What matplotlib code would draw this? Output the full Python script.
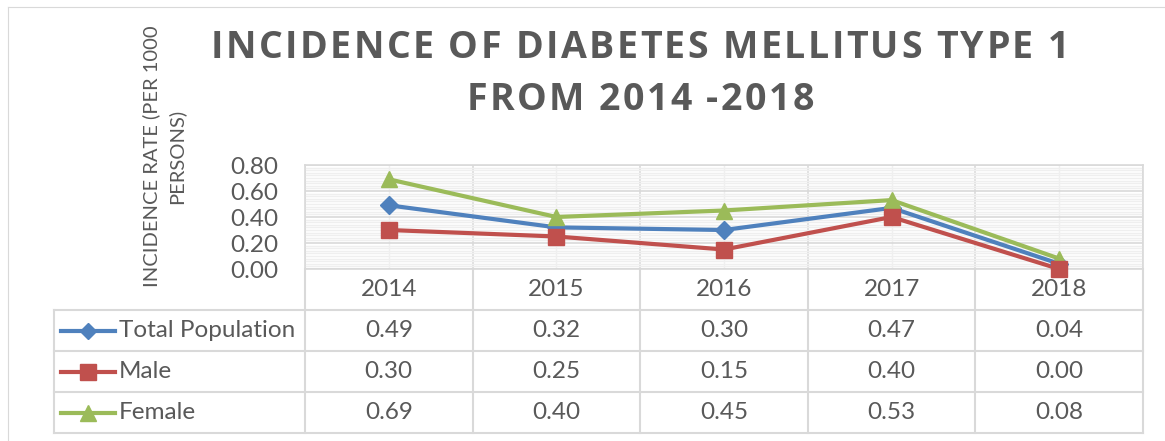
import matplotlib.pyplot as plt
import numpy as np

plt.rcParams['font.family'] = ['Lato', 'DejaVu Sans']

# data
years = ['2014', '2015', '2016', '2017', '2018']
series_names = ['Total Population', 'Male', 'Female']
total = [0.49, 0.32, 0.30, 0.47, 0.04]
male = [0.30, 0.25, 0.15, 0.40, 0.00]
female = [0.69, 0.40, 0.45, 0.53, 0.08]
title_lines = ['INCIDENCE OF DIABETES MELLITUS TYPE 1', 'FROM 2014 -2018']

colors = ['#4F81BD', '#C0504D', '#9BBB59']
markers = ['D', 's', '^']
msizes = [9, 12, 12]
txt = '#595959'
grid_major = '#d9d9d9'
grid_minor = '#efefef'
fs = 17.5

W, H = 1165, 441
fig = plt.figure(figsize=(W / 100, H / 100), dpi=100)
renderer = fig.canvas.get_renderer()


def spaced_text(s, xc, yc, spacing, **kw):
    # draw a line of text char by char to get Excel-like letter spacing (pixels)
    def width(t):
        obj = fig.text(0, 0, t, **kw)
        w = obj.get_window_extent(renderer).width
        obj.remove()
        return w
    n = len(s)
    total_w = width(s) + (n - 1) * spacing
    start = xc - total_w / 2
    for k, ch in enumerate(s):
        if ch == ' ':
            continue
        right = width(s[:k + 1]) + k * spacing
        fig.text((start + right) / W, 1 - yc / H, ch, ha='right', va='center', **kw)


# chart frame (Excel chart area border)
frame = fig.add_axes([8 / W, 0, 1 - 8 / W, 1 - 7 / H])
frame.set_xticks([])
frame.set_yticks([])
for side in ['bottom', 'right']:
    frame.spines[side].set_visible(False)
for side in ['top', 'left']:
    frame.spines[side].set_color(grid_major)
frame.patch.set_alpha(0)

# plot area
x0, x1, ytop, ybot = 305, 1143, 165, 269
ax = fig.add_axes([x0 / W, 1 - ybot / H, (x1 - x0) / W, (ybot - ytop) / H])
x = np.arange(len(years))
ax.set_xlim(-0.5, len(years) - 0.5)
ax.set_ylim(0, 0.8)
ax.set_yticks(np.arange(0, 0.81, 0.2))
ax.set_yticks(np.arange(0, 0.81, 0.02), minor=True)
ax.set_yticklabels([f'{v:.2f}' for v in np.arange(0, 0.81, 0.2)])
ax.set_xticks(np.arange(-0.5, len(years), 1.0))
ax.set_xticks(x, minor=True)
ax.set_xticklabels([])
ax.tick_params(which='both', length=0)
ax.tick_params(axis='y', labelsize=fs, labelcolor=txt, pad=19.5)
ax.grid(which='minor', color=grid_minor, lw=1)
ax.grid(which='major', color=grid_major, lw=1.2)
ax.set_axisbelow(True)
for s in ax.spines.values():
    s.set_color(grid_major)
    s.set_linewidth(1.2)

all_series = [total, male, female]
for vals, c in zip(all_series, colors):
    ax.plot(x, vals, color=c, lw=3, zorder=3, clip_on=False)
for i in [0, 2, 1]:
    ax.plot(x, all_series[i], ls='none', marker=markers[i], ms=msizes[i],
            color=colors[i], zorder=4, clip_on=False)

fig.text(164 / W, 1 - 156 / H, 'INCIDENCE RATE (PER 1000\nPERSONS)', rotation=90,
         ha='center', va='center', multialignment='center', fontsize=14.5,
         color=txt, linespacing=1.45)

title_kw = dict(fontsize=27, fontweight='bold', color=txt,
                family=['Open Sans', 'DejaVu Sans'])
spaced_text(title_lines[0], 640, 48.5, 2.4, **title_kw)
spaced_text(title_lines[1], 640, 100.5, 2.4, **title_kw)

# data table below the plot
tbot = 433
tab = fig.add_axes([x0 / W, 1 - tbot / H, (x1 - x0) / W, (tbot - ybot) / H])
tab.set_xlim(-0.5, len(years) - 0.5)
tab.set_ylim(4, 0)
tab.axis('off')
left = -2.0
lc = dict(color=grid_major, lw=1.5, clip_on=False)
for r in range(1, 5):
    tab.plot([left, len(years) - 0.5], [r, r], **lc)
tab.plot([left, left], [1, 4], **lc)
for b in np.arange(-0.5, len(years), 1.0):
    tab.plot([b, b], [0, 4], **lc)

for j, yr in enumerate(years):
    tab.text(j, 0.5, yr, ha='center', va='center', fontsize=fs, color=txt)
for i, (name, vals) in enumerate(zip(series_names, all_series)):
    r = i + 1.5
    tab.plot([-1.958, -1.636], [r, r], color=colors[i], lw=3, clip_on=False)
    tab.plot([-1.797], [r], marker=markers[i], ms=msizes[i] - 1, color=colors[i], clip_on=False)
    tab.text(-1.61, r, name, ha='left', va='center', fontsize=fs, color=txt)
    for j, v in enumerate(vals):
        tab.text(j, r, f'{v:.2f}', ha='center', va='center', fontsize=fs, color=txt)

fig.savefig('out.png', dpi=100)
